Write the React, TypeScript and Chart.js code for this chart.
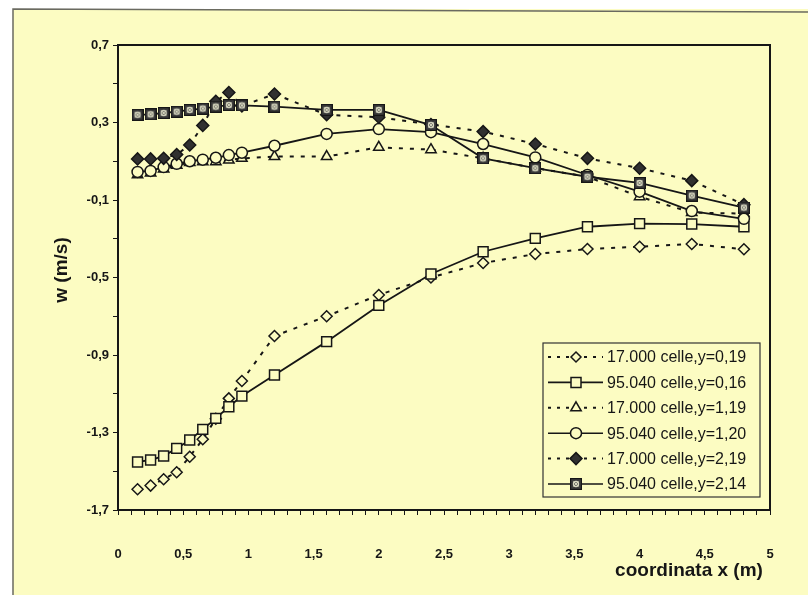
import React, { useEffect, useRef } from 'react';
import { Chart, registerables } from 'chart.js';

Chart.register(...registerables);

// ---------- data ----------
const xPositions = [0.15, 0.25, 0.35, 0.45, 0.55, 0.65, 0.75, 0.85, 0.95, 1.2, 1.6, 2.0, 2.4, 2.8, 3.2, 3.6, 4.0, 4.4, 4.8];

const seriesLabels = [
  '17.000 celle,y=0,19',
  '95.040 celle,y=0,16',
  '17.000 celle,y=1,19',
  '95.040 celle,y=1,20',
  '17.000 celle,y=2,19',
  '95.040 celle,y=2,14',
];

const coarseY019 = [-1.593, -1.574, -1.541, -1.505, -1.425, -1.335, -1.229, -1.124, -1.034, -0.802, -0.700, -0.590, -0.500, -0.425, -0.379, -0.353, -0.341, -0.327, -0.354];
const fineY016 = [-1.452, -1.442, -1.421, -1.382, -1.339, -1.284, -1.227, -1.167, -1.112, -1.003, -0.831, -0.644, -0.482, -0.367, -0.298, -0.238, -0.222, -0.224, -0.238];
const coarseY119 = [0.030, 0.040, 0.060, 0.080, 0.093, 0.098, 0.098, 0.106, 0.115, 0.124, 0.124, 0.172, 0.160, 0.115, 0.065, 0.020, -0.083, -0.165, -0.170];
const fineY120 = [0.045, 0.050, 0.070, 0.087, 0.100, 0.108, 0.118, 0.132, 0.144, 0.180, 0.241, 0.266, 0.250, 0.189, 0.120, 0.029, -0.057, -0.157, -0.197];
const coarseY219 = [0.112, 0.112, 0.115, 0.135, 0.184, 0.285, 0.410, 0.455, 0.385, 0.447, 0.340, 0.327, 0.290, 0.253, 0.189, 0.115, 0.064, 0.000, -0.124];
const fineY214 = [0.340, 0.342, 0.349, 0.356, 0.365, 0.372, 0.382, 0.390, 0.388, 0.382, 0.365, 0.365, 0.287, 0.115, 0.064, 0.020, -0.012, -0.077, -0.139];

const seriesValues = [coarseY019, fineY016, coarseY119, fineY120, coarseY219, fineY214];
const seriesDotted = [true, false, true, false, true, false];
const seriesMarkers = ['diamondOpen', 'squareOpen', 'triangleOpen', 'circleOpen', 'diamondFilled', 'squareHatch'];

const yTickLabelsEvery = 2; // label every second tick (0.4)
const xTickLabelsEvery = 5; // label every fifth tick (0.5)

// ---------- styles ----------
const PAPER = '#fcfcc2';
const INK = '#161616';
const FONT = '"Liberation Sans", Arial, sans-serif';
const DASH = [4, 7];

function makeHatchSquare(): HTMLCanvasElement {
  const c = document.createElement('canvas');
  c.width = 12;
  c.height = 12;
  const g = c.getContext('2d')!;
  g.fillStyle = '#3c3c3c';
  g.fillRect(0, 0, 12, 12);
  g.strokeStyle = INK;
  g.lineWidth = 1.2;
  g.strokeRect(0.6, 0.6, 10.8, 10.8);
  g.strokeStyle = '#d8d8c0';
  g.lineWidth = 1.1;
  g.beginPath();
  g.moveTo(3.5, 3.5); g.lineTo(8.5, 8.5);
  g.moveTo(8.5, 3.5); g.lineTo(3.5, 8.5);
  g.stroke();
  g.beginPath();
  g.arc(6, 6, 2.6, 0, Math.PI * 2);
  g.stroke();
  return c;
}

function fmt(v: number): string {
  const r = Math.round(v * 10) / 10;
  return String(r).replace('.', ',');
}

function drawMarker(ctx: CanvasRenderingContext2D, kind: string, x: number, y: number, hatch: HTMLCanvasElement) {
  ctx.save();
  ctx.setLineDash([]);
  ctx.lineWidth = 1.5;
  ctx.strokeStyle = INK;
  ctx.fillStyle = PAPER;
  ctx.beginPath();
  if (kind === 'diamondOpen' || kind === 'diamondFilled') {
    const r = kind === 'diamondOpen' ? 5 : 6;
    ctx.moveTo(x, y - r); ctx.lineTo(x + r, y); ctx.lineTo(x, y + r); ctx.lineTo(x - r, y); ctx.closePath();
    if (kind === 'diamondFilled') ctx.fillStyle = '#303030';
    ctx.fill(); ctx.stroke();
  } else if (kind === 'squareOpen') {
    ctx.rect(x - 5, y - 5, 10, 10);
    ctx.fill(); ctx.stroke();
  } else if (kind === 'triangleOpen') {
    const r = 6;
    ctx.moveTo(x, y - r);
    ctx.lineTo(x + r * Math.sin(Math.PI * 2 / 3), y - r * Math.cos(Math.PI * 2 / 3));
    ctx.lineTo(x - r * Math.sin(Math.PI * 2 / 3), y - r * Math.cos(Math.PI * 2 / 3));
    ctx.closePath();
    ctx.fill(); ctx.stroke();
  } else if (kind === 'circleOpen') {
    ctx.arc(x, y, 5.5, 0, Math.PI * 2);
    ctx.fill(); ctx.stroke();
  } else if (kind === 'squareHatch') {
    ctx.drawImage(hatch, x - 6, y - 6);
  }
  ctx.restore();
}

export default function App() {
  const canvasRef = useRef<HTMLCanvasElement | null>(null);

  useEffect(() => {
    const canvas = canvasRef.current;
    if (!canvas) return;
    const hatch = makeHatchSquare();

    const pointStyleFor = (kind: string): any => {
      if (kind === 'diamondOpen' || kind === 'diamondFilled') return 'rectRot';
      if (kind === 'squareOpen') return 'rect';
      if (kind === 'triangleOpen') return 'triangle';
      if (kind === 'circleOpen') return 'circle';
      return hatch;
    };
    const radiusFor = (kind: string) => {
      if (kind === 'diamondOpen') return 5.5;
      if (kind === 'diamondFilled') return 6;
      if (kind === 'squareOpen') return 7;
      if (kind === 'triangleOpen') return 6;
      if (kind === 'circleOpen') return 5.5;
      return 6;
    };

    const datasets = seriesLabels.map((label, i) => ({
      label,
      data: xPositions.map((x, j) => ({ x, y: seriesValues[i][j] })),
      borderColor: INK,
      borderWidth: seriesDotted[i] ? 2 : 1.8,
      borderDash: seriesDotted[i] ? DASH : [],
      pointStyle: pointStyleFor(seriesMarkers[i]),
      pointRadius: radiusFor(seriesMarkers[i]),
      pointBorderWidth: 1.5,
      pointBorderColor: INK,
      pointBackgroundColor: seriesMarkers[i] === 'diamondFilled' ? '#303030' : PAPER,
      fill: false,
      tension: 0,
      order: 5 - i,
    }));

    const paperPlugin = {
      id: 'paper',
      beforeDraw(chart: any) {
        const ctx = chart.ctx as CanvasRenderingContext2D;
        ctx.save();
        ctx.fillStyle = '#ffffff';
        ctx.fillRect(0, 0, chart.width, chart.height);
        ctx.fillStyle = PAPER;
        ctx.fillRect(13, 9, chart.width - 13, chart.height - 9);
        ctx.strokeStyle = '#6a6a60';
        ctx.lineWidth = 1.5;
        ctx.beginPath();
        ctx.moveTo(13, chart.height);
        ctx.lineTo(13, 9);
        ctx.lineTo(chart.width, 12);
        ctx.stroke();
        ctx.restore();
      },
      afterDraw(chart: any) {
        const ctx = chart.ctx as CanvasRenderingContext2D;
        const a = chart.chartArea;
        ctx.save();
        // plot frame
        ctx.strokeStyle = INK;
        ctx.lineWidth = 2;
        ctx.setLineDash([]);
        ctx.strokeRect(a.left, a.top, a.right - a.left, a.bottom - a.top);

        // axis titles
        ctx.fillStyle = INK;
        ctx.font = `bold 19px ${FONT}`;
        ctx.textAlign = 'center';
        ctx.textBaseline = 'middle';
        ctx.fillText('coordinata x (m)', 689, 571);
        ctx.save();
        ctx.translate(62, 270);
        ctx.rotate(-Math.PI / 2);
        ctx.fillText('w (m/s)', 0, 0);
        ctx.restore();

        // legend
        const bx = 543, by = 343, bw = 217, bh = 154;
        ctx.fillStyle = PAPER;
        ctx.fillRect(bx, by, bw, bh);
        ctx.strokeStyle = '#333';
        ctx.lineWidth = 1.2;
        ctx.strokeRect(bx, by, bw, bh);
        ctx.font = `16px ${FONT}`;
        ctx.textAlign = 'left';
        ctx.textBaseline = 'middle';
        seriesLabels.forEach((label, i) => {
          const y = 357 + i * 25.4;
          ctx.strokeStyle = INK;
          ctx.lineWidth = seriesDotted[i] ? 2 : 1.6;
          ctx.setLineDash(seriesDotted[i] ? [3, 6] : []);
          ctx.beginPath();
          ctx.moveTo(548, y);
          ctx.lineTo(603, y);
          ctx.stroke();
          ctx.setLineDash([]);
          drawMarker(ctx, seriesMarkers[i], 576, y, hatch);
          ctx.fillStyle = INK;
          ctx.fillText(label, 607, y + 1);
        });
        ctx.restore();
      },
    };

    const tickFont = { family: FONT, size: 13, weight: 'bold' as const };

    const chart = new Chart(canvas, {
      type: 'line',
      data: { datasets: datasets as any },
      options: {
        responsive: false,
        animation: false,
        devicePixelRatio: 1,
        layout: { padding: { left: 0, right: 38, top: 45, bottom: 0 } },
        plugins: { legend: { display: false }, tooltip: { enabled: false } },
        scales: {
          x: {
            type: 'linear',
            min: 0,
            max: 5,
            ticks: {
              stepSize: 0.1,
              autoSkip: false,
              maxRotation: 0,
              padding: 32,
              color: INK,
              font: tickFont,
              callback: (v: any, i: number) => (i % xTickLabelsEvery === 0 ? fmt(Number(v)) : ''),
            },
            grid: { drawOnChartArea: false, drawTicks: true, tickLength: 5, color: INK, lineWidth: 1 },
            border: { display: true, color: INK, width: 2 },
            afterFit: (s: any) => { s.height = 85; },
          },
          y: {
            type: 'linear',
            min: -1.7,
            max: 0.7,
            ticks: {
              stepSize: 0.2,
              autoSkip: false,
              padding: 4,
              color: INK,
              font: tickFont,
              callback: (v: any, i: number) => (i % yTickLabelsEvery === 0 ? fmt(Number(v)) : ''),
            },
            grid: { drawOnChartArea: false, drawTicks: true, tickLength: 5, color: INK, lineWidth: 1 },
            border: { display: true, color: INK, width: 2 },
            afterFit: (s: any) => { s.width = 118; },
          },
        },
      },
      plugins: [paperPlugin],
    });

    return () => chart.destroy();
  }, []);

  return (
    <div style={{ position: 'fixed', left: 0, top: 0, width: 808, height: 595, background: '#fff' }}>
      <canvas ref={canvasRef} width={808} height={595} style={{ width: 808, height: 595, display: 'block' }} />
    </div>
  );
}
